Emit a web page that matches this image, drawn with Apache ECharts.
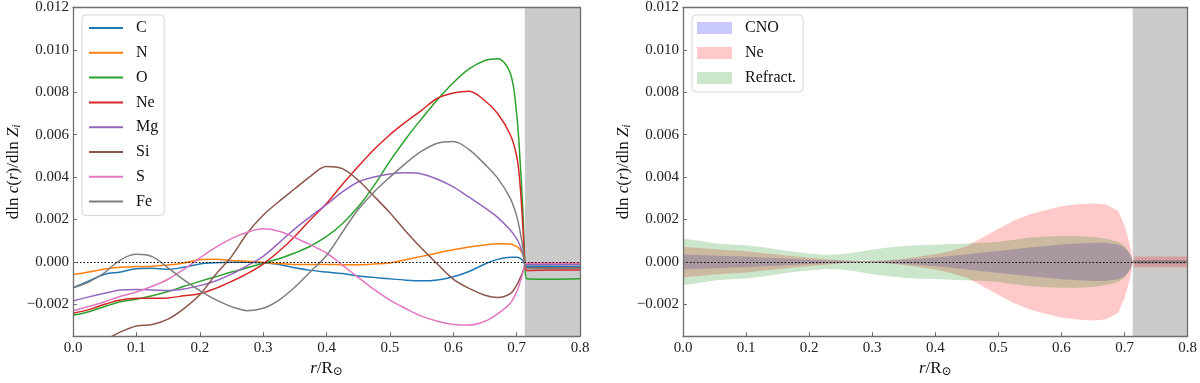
<!DOCTYPE html>
<html>
<head>
<meta charset="utf-8">
<script src="https://cdn.jsdelivr.net/npm/echarts@6/dist/echarts.min.js"></script>
<style>
  html, body { margin: 0; padding: 0; background: #fff; }
  #chart { width: 1200px; height: 383px; }
</style>
</head>
<body>
<div id="chart"></div>
<script>
// radius r/R_sun, shared by every curve and band
const r = [0, 0.025, 0.05, 0.075, 0.1, 0.125, 0.15, 0.175, 0.2, 0.225, 0.25, 0.275, 0.3, 0.325,
  0.35, 0.375, 0.4, 0.425, 0.45, 0.475, 0.5, 0.525, 0.55, 0.575, 0.6, 0.625, 0.65,
  0.67, 0.69, 0.70, 0.705, 0.71, 0.713, 0.716, 0.75, 0.8];

// dln c(r) / dln Z_i, in units of 1e-3
const C = [-1.22, -0.9, -0.58, -0.48, -0.32, -0.3, -0.35, -0.25, -0.1, -0.04, -0.02, -0.02, -0.05, -0.12,
  -0.28, -0.4, -0.48, -0.55, -0.66, -0.73, -0.8, -0.86, -0.89, -0.85, -0.7, -0.45, -0.1,
  0.12, 0.22, 0.22, 0.18, 0.05, -0.12, -0.2, -0.2, -0.22];
const N = [-0.6, -0.48, -0.33, -0.25, -0.22, -0.2, -0.15, -0.05, 0.1, 0.12, 0.07, 0.03, -0.02, -0.08,
  -0.12, -0.12, -0.12, -0.13, -0.13, -0.1, -0.05, 0.1, 0.26, 0.42, 0.57, 0.7, 0.8,
  0.86, 0.85, 0.72, 0.6, 0.35, -0.05, -0.08, -0.08, -0.08];
const O = [-2.52, -2.35, -2.1, -1.88, -1.76, -1.6, -1.4, -1.15, -0.92, -0.7, -0.48, -0.28, -0.06, 0.15,
  0.42, 0.75, 1.2, 1.8, 2.6, 3.6, 4.75, 5.8, 6.75, 7.65, 8.45, 9.1, 9.5,
  9.58, 8.9, 7.0, 5.0, 2.3, 0.0, -0.8, -0.82, -0.8];
const Ne = [-2.42, -2.25, -2.0, -1.8, -1.72, -1.72, -1.7, -1.6, -1.5, -1.25, -0.92, -0.55, -0.1, 0.5,
  1.2, 2.0, 2.75, 3.65, 4.5, 5.3, 6.0, 6.6, 7.15, 7.72, 7.97, 8.05, 7.6,
  7.0, 6.0, 5.0, 3.8, 1.6, -0.1, -0.4, -0.38, -0.38];
const Mg = [-1.84, -1.65, -1.48, -1.33, -1.3, -1.32, -1.35, -1.28, -1.12, -0.9, -0.58, -0.18, 0.26, 0.9,
  1.56, 2.15, 2.7, 3.3, 3.77, 4.0, 4.15, 4.2, 4.15, 3.9, 3.54, 3.05, 2.55,
  2.1, 1.5, 1.1, 0.8, 0.35, -0.1, -0.12, -0.12, -0.12];
const Si = [-4.3, -4.0, -3.7, -3.3, -3.02, -2.95, -2.7, -2.2, -1.55, -0.6, 0.25, 1.35, 2.2, 2.85,
  3.45, 4.05, 4.5, 4.4, 3.85, 3.1, 2.32, 1.45, 0.64, -0.1, -0.81, -1.25, -1.57,
  -1.68, -1.5, -1.1, -0.8, -0.45, -0.2, -0.28, -0.28, -0.28];
const S = [-2.3, -2.1, -1.88, -1.62, -1.42, -1.15, -0.82, -0.35, 0.18, 0.68, 1.1, 1.4, 1.56, 1.45,
  1.15, 0.8, 0.42, -0.15, -0.73, -1.3, -1.8, -2.2, -2.56, -2.8, -2.95, -2.98, -2.8,
  -2.45, -1.95, -1.42, -1.0, -0.5, -0.1, -0.05, -0.05, -0.05];
const Fe = [-1.22, -0.95, -0.5, 0.1, 0.36, 0.25, -0.28, -0.85, -1.35, -1.78, -2.11, -2.3, -2.19, -1.8,
  -1.19, -0.45, 0.3, 1.4, 2.47, 3.3, 4.0, 4.65, 5.22, 5.6, 5.68, 5.3, 4.6,
  3.95, 3.0, 2.17, 1.5, 0.64, -0.2, -0.3, -0.3, -0.3];

// half widths of the uncertainty bands (right panel), units of 1e-3
const cnoHalf = [0.35, 0.33, 0.3, 0.27, 0.25, 0.21, 0.18, 0.14, 0.1, 0.07, 0.05, 0.03, 0.03, 0.06,
  0.1, 0.15, 0.21, 0.28, 0.36, 0.44, 0.52, 0.6, 0.68, 0.75, 0.82, 0.87, 0.9,
  0.9, 0.82, 0.68, 0.52, 0.3, 0.0, 0.08, 0.08, 0.08];
const neHalf = [0.72, 0.66, 0.6, 0.55, 0.5, 0.42, 0.35, 0.27, 0.2, 0.13, 0.08, 0.04, 0.04, 0.08,
  0.15, 0.25, 0.36, 0.52, 0.75, 1.15, 1.56, 1.95, 2.25, 2.45, 2.62, 2.72, 2.76,
  2.72, 2.4, 1.7, 1.2, 0.6, 0.0, 0.25, 0.25, 0.25];
const refrHalf = [1.1, 1.0, 0.88, 0.82, 0.78, 0.7, 0.58, 0.48, 0.4, 0.34, 0.36, 0.45, 0.58, 0.68,
  0.75, 0.79, 0.81, 0.84, 0.87, 0.9, 0.95, 1.05, 1.15, 1.2, 1.22, 1.22, 1.18,
  1.1, 0.95, 0.75, 0.55, 0.3, 0.0, 0.08, 0.08, 0.08];

const elements = ['C', 'N', 'O', 'Ne', 'Mg', 'Si', 'S', 'Fe'];
const curves = [C, N, O, Ne, Mg, Si, S, Fe];
const bandNames = ['CNO', 'Ne ', 'Refract.'];
const bandHalf = [cnoHalf, neHalf, refrHalf];

// convection zone (grey)
const shadeStart = 0.713;
const shadeEnd = 0.8;

const xTicks = [0, 0.1, 0.2, 0.3, 0.4, 0.5, 0.6, 0.7, 0.8];
const yTicks = [-2, 0, 2, 4, 6, 8, 10, 12];

// styles
const lineColors = ['#1f77b4', '#ff7f0e', '#2ca02c', '#d62728', '#9467bd', '#8c564b', '#e377c2', '#7f7f7f'];
const bandColors = ['rgba(0,0,255,0.21)', 'rgba(255,0,0,0.21)', 'rgba(0,128,0,0.2)'];
const serif = "'Liberation Serif', 'DejaVu Serif', serif";
const frame = '#6e6e6e';

const chart = echarts.init(document.getElementById('chart'));

const nameRich = {
  n: { fontFamily: serif, fontSize: 17, color: '#111' },
  i: { fontFamily: serif, fontSize: 17, fontStyle: 'italic', color: '#111' },
  s: { fontFamily: serif, fontSize: 12, fontStyle: 'italic', color: '#111', padding: [7, 0, 0, 0] },
  o: { fontFamily: serif, fontSize: 12, color: '#111', padding: [7, 0, 0, 0] }
};

function xBottom(g) {
  return {
    type: 'value', gridIndex: g, min: 0, max: 0.8, position: 'bottom', z: 10,
    axisLine: { show: true, onZero: false, lineStyle: { color: frame, width: 1.3 } },
    axisTick: { show: true, inside: true, length: 4, customValues: xTicks, lineStyle: { color: frame } },
    axisLabel: { customValues: xTicks, formatter: v => v.toFixed(1), margin: 4,
      fontFamily: serif, fontSize: 15, color: '#222' },
    splitLine: { show: false },
    name: '{i|r}{n|/R}{o|\u2299}', nameLocation: 'middle', nameGap: 20,
    nameTextStyle: { rich: nameRich }
  };
}
function xTop(g) {
  return {
    type: 'value', gridIndex: g, min: 0, max: 0.8, position: 'top', z: 10,
    axisLine: { show: true, onZero: false, lineStyle: { color: frame, width: 1.3 } },
    axisTick: { show: false }, axisLabel: { show: false }, splitLine: { show: false }
  };
}
function yLeft(g) {
  return {
    type: 'value', gridIndex: g, min: -3.5, max: 12, position: 'left', z: 10,
    axisLine: { show: true, onZero: false, lineStyle: { color: frame, width: 1.3 } },
    axisTick: { show: true, inside: true, length: 4, customValues: yTicks, lineStyle: { color: frame } },
    axisLabel: { customValues: yTicks, margin: 4, fontFamily: serif, fontSize: 15, color: '#222',
      formatter: v => (v / 1000).toFixed(3).replace('-', '\u2212') },
    splitLine: { show: false },
    name: '{n|dln }{i|c}{n|(}{i|r}{n|)/dln }{i|Z}{s|i}', nameLocation: 'middle', nameGap: 49, nameRotate: 90,
    nameTextStyle: { rich: nameRich }
  };
}
function yRight(g) {
  return {
    type: 'value', gridIndex: g, min: -3.5, max: 12, position: 'right', z: 10,
    axisLine: { show: true, onZero: false, lineStyle: { color: frame, width: 1.3 } },
    axisTick: { show: false }, axisLabel: { show: false }, splitLine: { show: false }
  };
}

const zeroLine = {
  silent: true, symbol: 'none', label: { show: false },
  lineStyle: { color: '#000', type: [1.5, 2], width: 1.2 },
  data: [{ yAxis: 0 }]
};
const shade = {
  silent: true, itemStyle: { color: '#cbcbcb' },
  data: [[{ xAxis: shadeStart }, { xAxis: shadeEnd }]]
};

const series = [];

elements.forEach((name, k) => {
  const s = {
    name: name, type: 'line', xAxisIndex: 0, yAxisIndex: 0,
    data: r.map((x, i) => [x, curves[k][i]]),
    symbol: 'none', smooth: 0.35,
    color: lineColors[k],
    lineStyle: { width: 1.5, color: lineColors[k] },
    z: 3
  };
  if (k === 0) s.markArea = shade;
  if (k === elements.length - 1) s.markLine = zeroLine;
  series.push(s);
});

// each band is one polygon: upper edge forward, lower edge back
bandNames.forEach((name, k) => {
  const half = bandHalf[k];
  const s = {
    name: name, type: 'custom', xAxisIndex: 1, yAxisIndex: 1,
    data: r.map((x, i) => [x, -half[i], half[i]]),
    encode: { x: 0, y: [1, 2] },
    itemStyle: { color: bandColors[k] },
    renderItem: function (params, api) {
      if (params.dataIndex !== 0) return null;
      const upper = r.map((x, i) => api.coord([x, half[i]]));
      const lower = r.map((x, i) => api.coord([x, -half[i]])).reverse();
      return {
        type: 'polygon',
        shape: { points: upper.concat(lower) },
        style: { fill: bandColors[k] }
      };
    },
    silent: true, z: 3
  };
  if (k === 0) s.markArea = shade;
  if (k === bandNames.length - 1) s.markLine = zeroLine;
  series.push(s);
});

const option = {
  animation: false,
  backgroundColor: '#fff',
  grid: [
    { left: 73, top: 6, width: 507, height: 337 },
    { left: 683, top: 6, width: 507, height: 337 }
  ],
  xAxis: [xBottom(0), xBottom(1), xTop(0), xTop(1)],
  yAxis: [yLeft(0), yLeft(1), yRight(0), yRight(1)],
  legend: [
    {
      data: elements, left: 82, top: 15, orient: 'vertical',
      itemWidth: 34, itemHeight: 14, itemGap: 8.8,
      padding: [5, 6, 6, 6],
      backgroundColor: 'rgba(255,255,255,0.85)', borderColor: '#d6d6d6', borderWidth: 1, borderRadius: 4,
      textStyle: { fontFamily: serif, fontSize: 16, color: '#111', padding: [0, 0, 0, 8] },
      itemStyle: { opacity: 0 }, lineStyle: { width: 2 },
      selectedMode: false
    },
    {
      data: bandNames.map((n, k) => ({ name: n, icon: 'rect', itemStyle: { color: bandColors[k], opacity: 1 } })),
      left: 692, top: 15, orient: 'vertical',
      itemWidth: 35, itemHeight: 12, itemGap: 9,
      padding: [5, 7, 6, 5],
      backgroundColor: 'rgba(255,255,255,0.85)', borderColor: '#d6d6d6', borderWidth: 1, borderRadius: 4,
      textStyle: { fontFamily: serif, fontSize: 16, color: '#111', padding: [0, 0, 0, 8] },
      selectedMode: false
    }
  ],
  series: series
};

chart.setOption(option);
</script>
</body>
</html>
